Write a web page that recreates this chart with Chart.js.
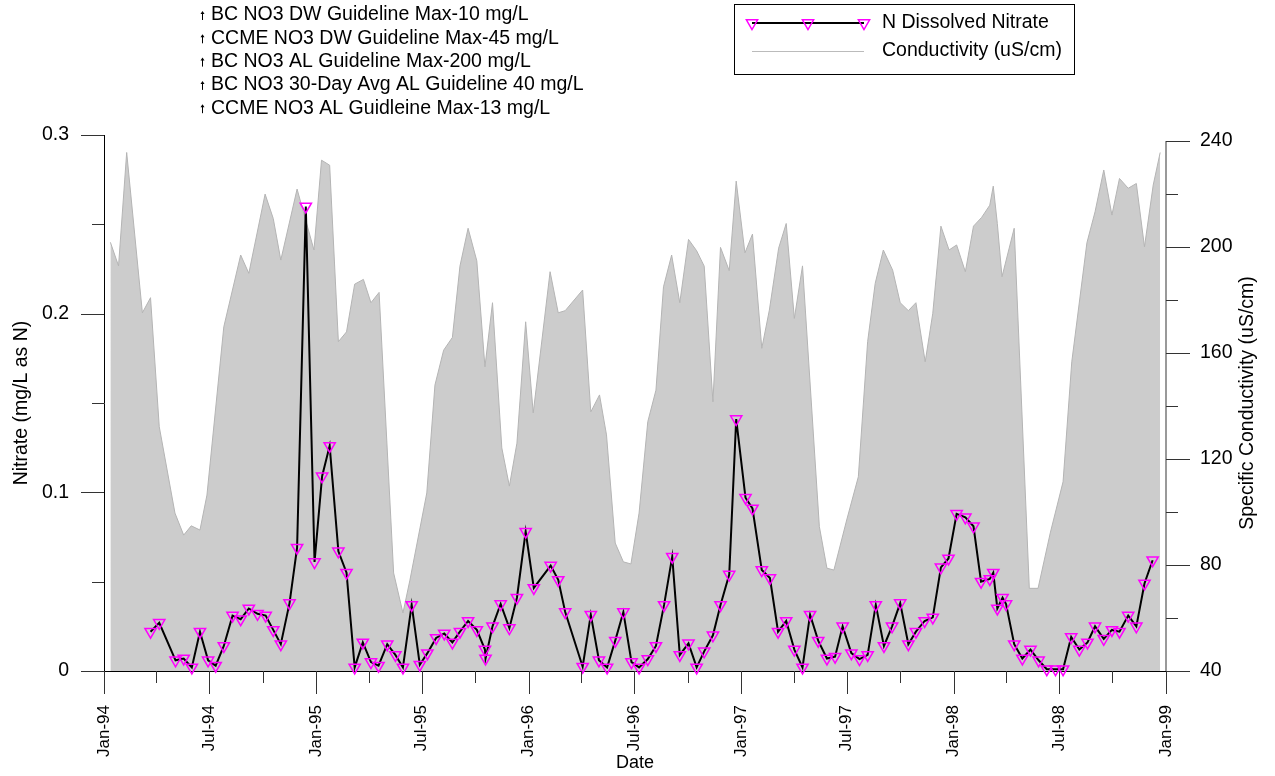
<!DOCTYPE html>
<html>
<head>
<meta charset="utf-8">
<script src="https://cdn.jsdelivr.net/npm/chart.js@4.4.0/dist/chart.umd.min.js"></script>
<style>
  html, body { margin: 0; padding: 0; background: #fff; }
</style>
</head>
<body>
<canvas id="chart" width="1275" height="776"></canvas>
<script>
// N dissolved nitrate samples (mg/L as N)
const nitrateDates = [
  '1994-03-22','1994-04-06','1994-05-04','1994-05-18','1994-06-01','1994-06-15','1994-06-29','1994-07-12','1994-07-26','1994-08-10',
  '1994-08-24','1994-09-07','1994-09-22','1994-10-06','1994-10-19','1994-11-01','1994-11-16','1994-11-29','1994-12-14','1994-12-29',
  '1995-01-11','1995-01-24','1995-02-08','1995-02-22','1995-03-08','1995-03-22','1995-04-05','1995-04-18','1995-05-03','1995-05-17',
  '1995-05-30','1995-06-14','1995-06-28','1995-07-11','1995-07-26','1995-08-09','1995-08-23','1995-09-05','1995-09-19','1995-10-04',
  '1995-10-18','1995-10-19','1995-10-31','1995-11-14','1995-11-29','1995-12-12','1995-12-27',
  '1996-01-10','1996-02-08','1996-02-21','1996-03-04','1996-04-03','1996-04-17','1996-05-01','1996-05-15','1996-05-29','1996-06-12',
  '1996-06-26','1996-07-09','1996-07-24','1996-08-07','1996-08-21','1996-09-04','1996-09-17','1996-10-02','1996-10-16','1996-10-29',
  '1996-11-13','1996-11-26','1996-12-11','1996-12-23',
  '1997-01-08','1997-01-20','1997-02-05','1997-02-19','1997-03-05','1997-03-19','1997-04-02','1997-04-16','1997-04-29','1997-05-13',
  '1997-05-28','1997-06-11','1997-06-24','1997-07-09','1997-07-23','1997-08-06','1997-08-20','1997-09-03','1997-09-17','1997-10-01',
  '1997-10-15','1997-10-28','1997-11-12','1997-11-26','1997-12-10','1997-12-23',
  '1998-01-06','1998-01-21','1998-02-04','1998-02-17','1998-03-04','1998-03-10','1998-03-17','1998-03-26','1998-04-01','1998-04-15',
  '1998-04-29','1998-05-13','1998-05-27','1998-06-10','1998-06-25','1998-07-08','1998-07-22','1998-08-05','1998-08-19','1998-09-01',
  '1998-09-16','1998-09-30','1998-10-13','1998-10-28','1998-11-11','1998-11-25','1998-12-09'
];
const nitrateValues = [
  0.022, 0.027, 0.006, 0.007, 0.002, 0.022, 0.006, 0.003, 0.014, 0.031,
  0.029, 0.035, 0.032, 0.031, 0.023, 0.015, 0.038, 0.069, 0.260, 0.061,
  0.109, 0.126, 0.067, 0.055, 0.002, 0.016, 0.005, 0.003, 0.015, 0.009,
  0.002, 0.037, 0.0035, 0.010, 0.0185, 0.021, 0.016, 0.022, 0.028, 0.023,
  0.012, 0.007, 0.025, 0.0375, 0.024, 0.041, 0.078,
  0.0465, 0.059, 0.051, 0.033, 0.0024, 0.0315, 0.006, 0.002, 0.017, 0.033,
  0.005, 0.002, 0.0067, 0.014, 0.037, 0.064, 0.009, 0.0155, 0.002, 0.011,
  0.020, 0.037, 0.054, 0.141,
  0.097, 0.091, 0.0565, 0.052, 0.022, 0.028, 0.012, 0.002, 0.0315, 0.017,
  0.007, 0.008, 0.025, 0.010, 0.0067, 0.009, 0.037, 0.014, 0.025, 0.038,
  0.015, 0.022, 0.028, 0.030, 0.058, 0.063,
  0.088, 0.086, 0.081, 0.050, 0.0515, 0.055, 0.035, 0.041, 0.0375, 0.015,
  0.007, 0.012, 0.006, 0.001, 0.001, 0.001, 0.019, 0.012, 0.016, 0.025,
  0.018, 0.023, 0.022, 0.031, 0.025, 0.049, 0.062
];

// specific conductivity samples (uS/cm)
const condDates = [
  '1994-01-12','1994-01-26','1994-02-09','1994-03-08','1994-03-22','1994-04-06','1994-05-03','1994-05-18','1994-05-31','1994-06-15',
  '1994-06-27','1994-07-26','1994-08-24','1994-09-07','1994-10-05','1994-10-19','1994-11-01','1994-11-29','1994-12-28',
  '1995-01-10','1995-01-24','1995-02-08','1995-02-22','1995-03-08','1995-03-23','1995-04-05','1995-04-19','1995-05-14','1995-05-30',
  '1995-06-11','1995-07-10','1995-07-24','1995-08-08','1995-08-23','1995-09-05','1995-09-19','1995-10-04','1995-10-18','1995-10-31',
  '1995-11-16','1995-11-29','1995-12-12','1995-12-27',
  '1996-01-09','1996-02-07','1996-02-21','1996-03-04','1996-04-03','1996-04-17','1996-05-02','1996-05-14','1996-05-29','1996-06-12',
  '1996-06-25','1996-07-09','1996-07-24','1996-08-07','1996-08-20','1996-09-03','1996-09-17','1996-10-02','1996-10-16','1996-10-29',
  '1996-11-13','1996-11-26','1996-12-11','1996-12-23',
  '1997-01-07','1997-01-20','1997-02-05','1997-02-18','1997-03-06','1997-03-19','1997-04-02','1997-04-16','1997-05-15','1997-05-28',
  '1997-06-09','1997-07-01','1997-07-21','1997-08-06','1997-08-19','1997-09-02','1997-09-18','1997-10-01','1997-10-15','1997-10-28',
  '1997-11-13','1997-11-26','1997-12-10','1997-12-24',
  '1998-01-06','1998-01-21','1998-02-04','1998-02-18','1998-03-04','1998-03-10','1998-03-17','1998-03-25','1998-04-15','1998-05-11',
  '1998-05-26','1998-06-16','1998-07-08','1998-07-23','1998-08-18','1998-09-01','1998-09-16','1998-09-30','1998-10-13','1998-10-28',
  '1998-11-11','1998-11-25','1998-12-10','1998-12-22'
];
const condValues = [
  201.8, 192.9, 235.7, 175.2, 180.9, 132.2, 99.6, 91.3, 94.8, 93.2,
  106.4, 169.9, 197.0, 190.1, 220.0, 210.8, 195.1, 221.9, 198.9,
  232.8, 230.9, 164.3, 168.0, 186.0, 187.8, 179.0, 182.9, 77.0, 61.9,
  74.3, 107.2, 147.9, 161.1, 165.9, 192.8, 207.1, 194.8, 154.8, 179.0,
  124.2, 109.8, 126.0, 171.8,
  137.4, 190.7, 175.2, 176.0, 183.8, 137.8, 144.2, 129.1, 88.3, 81.2,
  80.4, 99.6, 134.1, 146.0, 185.0, 197.0, 179.0, 202.9, 198.6, 192.8,
  141.6, 199.9, 191.1, 224.9,
  197.8, 204.9, 161.8, 176.2, 199.6, 208.9, 173.1, 192.9, 94.5, 78.8,
  78.1, 97.0, 113.3, 164.3, 186.3, 198.9, 191.3, 179.0, 176.0, 179.0,
  156.7, 175.0, 207.9, 198.9,
  200.8, 190.7, 207.9, 211.2, 215.8, 223.0, 208.9, 188.8, 207.1, 71.2,
  71.2, 92.1, 111.4, 156.7, 201.6, 213.3, 229.1, 212.1, 225.9, 222.2,
  224.0, 200.1, 223.4, 235.7
];

// x axis: labelled ticks every 6 months, small ticks in between
const xTickDates = ['1994-01-01','1994-07-01','1995-01-01','1995-07-01','1996-01-01','1996-07-01',
  '1997-01-01','1997-07-01','1998-01-01','1998-07-01','1999-01-01'];
const xTickLabels = ['Jan-94','Jul-94','Jan-95','Jul-95','Jan-96','Jul-96','Jan-97','Jul-97','Jan-98','Jul-98','Jan-99'];
const xMinorDates = ['1994-04-01','1994-10-01','1995-04-01','1995-10-01','1996-04-01','1996-10-01',
  '1997-04-01','1997-10-01','1998-04-01','1998-10-01'];

const guidelineNames = [
  'BC NO3 DW Guideline Max-10 mg/L',
  'CCME NO3 DW Guideline Max-45 mg/L',
  'BC NO3 AL Guideline Max-200 mg/L',
  'BC NO3 30-Day Avg AL Guideline 40 mg/L',
  'CCME NO3 AL Guidleine Max-13 mg/L'
];

const FONT = '"Liberation Sans", Arial, sans-serif';
const MAGENTA = '#ff00ff';

function toDay(s) {
  const [y, m, d] = s.split('-').map(Number);
  return (Date.UTC(y, m - 1, d) - Date.UTC(1994, 0, 1)) / 86400000;
}

Chart.defaults.font.family = FONT;
Chart.defaults.font.size = 19.5;
Chart.defaults.color = '#000';

// tick marks, right title, legend box and guideline notes
const decor = {
  id: 'decor',
  afterDraw(chart) {
    const ctx = chart.ctx;
    const area = chart.chartArea;
    const x = chart.scales.x, y = chart.scales.y, y2 = chart.scales.y2;
    ctx.save();
    ctx.lineWidth = 1;

    // left axis ticks
    ctx.strokeStyle = '#333';
    y.ticks.forEach(t => {
      const py = Math.round(y.getPixelForValue(t.value)) + 0.5;
      const len = t.label !== '' ? 23 : 12;
      ctx.beginPath(); ctx.moveTo(area.left - len, py); ctx.lineTo(area.left, py); ctx.stroke();
    });

    // right axis line and ticks
    ctx.strokeStyle = '#777';
    ctx.lineWidth = 1.5;
    ctx.beginPath();
    ctx.moveTo(area.right, y2.getPixelForValue(40));
    ctx.lineTo(area.right, y2.getPixelForValue(240));
    ctx.stroke();
    ctx.lineWidth = 1;
    ctx.strokeStyle = '#333';
    y2.ticks.forEach(t => {
      const py = Math.round(y2.getPixelForValue(t.value)) + 0.5;
      const len = t.label !== '' ? 24 : 12;
      ctx.beginPath(); ctx.moveTo(area.right, py); ctx.lineTo(area.right + len, py); ctx.stroke();
    });

    // x axis ticks
    xTickDates.forEach(d => {
      const px = Math.round(x.getPixelForValue(toDay(d))) + 0.5;
      ctx.beginPath(); ctx.moveTo(px, area.bottom); ctx.lineTo(px, area.bottom + 23); ctx.stroke();
    });
    xMinorDates.forEach(d => {
      const px = Math.round(x.getPixelForValue(toDay(d))) + 0.5;
      ctx.beginPath(); ctx.moveTo(px, area.bottom); ctx.lineTo(px, area.bottom + 12); ctx.stroke();
    });

    // right axis title, reading bottom to top
    ctx.fillStyle = '#000';
    ctx.font = '19.5px ' + FONT;
    ctx.textAlign = 'center';
    ctx.textBaseline = 'middle';
    ctx.save();
    ctx.translate(1248, (area.top + area.bottom) / 2);
    ctx.rotate(-Math.PI / 2);
    ctx.fillText('Specific Conductivity (uS/cm)', 0, 0);
    ctx.restore();

    // legend box
    ctx.strokeStyle = '#000';
    ctx.strokeRect(734.5, 4.5, 340, 70);
    ctx.lineWidth = 2;
    ctx.beginPath(); ctx.moveTo(752, 23); ctx.lineTo(864, 23); ctx.stroke();
    ctx.strokeStyle = MAGENTA;
    ctx.fillStyle = 'rgba(0,0,0,0)';
    ctx.lineWidth = 1.5;
    [752, 808, 864].forEach(px => {
      Chart.helpers.drawPoint(ctx, { pointStyle: 'triangle', rotation: 180, radius: 6.5, borderWidth: 1.5 }, px, 23);
    });
    ctx.strokeStyle = '#bbb';
    ctx.lineWidth = 1;
    ctx.beginPath(); ctx.moveTo(752, 51.5); ctx.lineTo(864, 51.5); ctx.stroke();
    ctx.fillStyle = '#000';
    ctx.textAlign = 'left';
    ctx.fillText('N Dissolved Nitrate', 882, 23);
    ctx.fillText('Conductivity (uS/cm)', 882, 51);

    // guideline notes (off the scale, shown with small arrows)
    guidelineNames.forEach((name, i) => {
      const cy = 15 + i * 23.3;
      ctx.fillStyle = '#000';
      ctx.fillText(name, 211, cy);
      ctx.strokeStyle = '#000';
      ctx.lineWidth = 1;
      ctx.beginPath(); ctx.moveTo(202.5, cy + 5); ctx.lineTo(202.5, cy - 2); ctx.stroke();
      ctx.beginPath(); ctx.moveTo(200.5, cy - 1); ctx.lineTo(202.5, cy - 4); ctx.lineTo(204.5, cy - 1); ctx.closePath(); ctx.fill();
    });
    ctx.restore();
  }
};

new Chart(document.getElementById('chart'), {
  type: 'line',
  data: {
    datasets: [
      {
        label: 'N Dissolved Nitrate',
        data: nitrateDates.map((d, i) => ({ x: toDay(d), y: nitrateValues[i] })),
        yAxisID: 'y',
        borderColor: '#000',
        borderWidth: 2,
        tension: 0,
        fill: false,
        pointStyle: 'triangle',
        pointRotation: 180,
        pointRadius: 6.5,
        pointBorderColor: MAGENTA,
        pointBackgroundColor: 'rgba(0,0,0,0)',
        pointBorderWidth: 1.5,
        clip: false
      },
      {
        label: 'Conductivity (uS/cm)',
        data: condDates.map((d, i) => ({ x: toDay(d), y: condValues[i] })),
        yAxisID: 'y2',
        borderColor: '#b4b4b4',
        borderWidth: 1,
        backgroundColor: '#cccccc',
        fill: 'start',
        tension: 0,
        pointRadius: 0
      }
    ]
  },
  options: {
    responsive: false,
    animation: false,
    layout: { padding: { top: 135, left: 0, right: 0, bottom: 0 } },
    plugins: {
      legend: { display: false },
      tooltip: { enabled: false }
    },
    scales: {
      x: {
        type: 'linear',
        min: 0,
        max: toDay('1999-01-01'),
        afterFit: s => { s.height = 105; },
        afterBuildTicks: s => { s.ticks = xTickDates.map(d => ({ value: toDay(d) })); },
        grid: { display: false, drawTicks: false },
        border: { display: true, color: '#000', width: 1 },
        ticks: {
          autoSkip: false,
          minRotation: 90,
          maxRotation: 90,
          padding: 34,
          font: { size: 17 },
          callback: v => {
            const i = xTickDates.findIndex(d => toDay(d) === v);
            return i >= 0 ? xTickLabels[i] : '';
          }
        },
        title: { display: true, text: 'Date', font: { size: 18 }, padding: { top: 0, bottom: 2 } }
      },
      y: {
        position: 'left',
        min: 0,
        max: 0.3,
        afterFit: s => { s.width = 104; },
        grid: { display: false, drawTicks: false },
        border: { display: true, color: '#000', width: 1 },
        ticks: {
          stepSize: 0.05,
          autoSkip: false,
          padding: 35,
          callback: v => {
            const k = Math.round(v * 100);
            return k % 10 === 0 ? String(k / 100) : '';
          }
        },
        title: { display: true, text: 'Nitrate (mg/L as N)', padding: { top: 10, bottom: 0 } }
      },
      y2: {
        position: 'right',
        min: 40,
        max: 242.3,
        afterFit: s => { s.width = 109; },
        grid: { display: false, drawTicks: false },
        border: { display: false },
        ticks: {
          stepSize: 20,
          includeBounds: false,
          autoSkip: false,
          padding: 34,
          callback: v => ((v - 40) % 40 === 0 ? String(v) : '')
        }
      }
    }
  },
  plugins: [decor]
});
</script>
</body>
</html>
